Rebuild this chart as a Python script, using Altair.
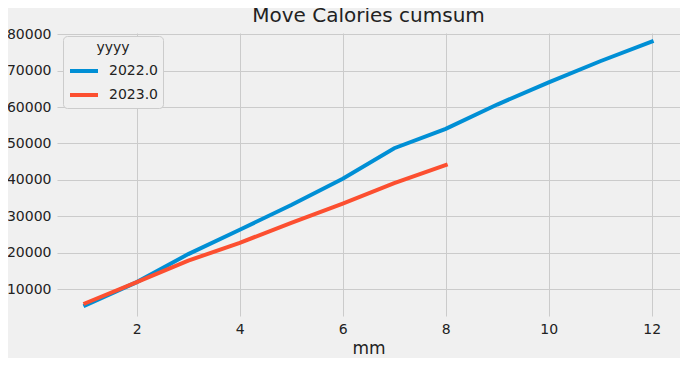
import altair as alt
import pandas as pd

months_2022 = [1, 2, 3, 4, 5, 6, 7, 8, 9, 10, 11, 12]
values_2022 = [5500, 11900, 19600, 26300, 33100, 40300, 48700, 54000, 60700, 66800, 72600, 78000]
months_2023 = [1, 2, 3, 4, 5, 6, 7, 8]
values_2023 = [6100, 11900, 17800, 22700, 28200, 33500, 39100, 44100]
series = ["2022.0", "2023.0"]
colors = ["#008fd5", "#fc4f30"]
x_ticks = [2, 4, 6, 8, 10, 12]
y_ticks = [10000, 20000, 30000, 40000, 50000, 60000, 70000, 80000]

df = pd.concat([
    pd.DataFrame({"mm": months_2022, "val": values_2022, "yyyy": series[0]}),
    pd.DataFrame({"mm": months_2023, "val": values_2023, "yyyy": series[1]}),
])

chart = alt.Chart(df).mark_line(strokeWidth=4, strokeCap="square", clip=True).encode(
    x=alt.X("mm:Q", title="mm", scale=alt.Scale(domain=[0.45, 12.55], nice=False, zero=False),
            axis=alt.Axis(values=x_ticks, format="d")),
    y=alt.Y("val:Q", title=None, scale=alt.Scale(domain=[2590, 80360], nice=False, zero=False),
            axis=alt.Axis(values=y_ticks, format="d")),
    color=alt.Color("yyyy:N", scale=alt.Scale(domain=series, range=colors),
                    legend=alt.Legend(title="yyyy", orient="none", legendX=6, legendY=3,
                                      symbolType="stroke", symbolSize=784, symbolStrokeWidth=4,
                                      labelFontSize=14, titleFontSize=14, titleFontWeight="normal",
                                      titleAnchor="middle", titleColor="#222222", labelColor="#222222",
                                      fillColor="#f0f0f0", strokeColor="#cccccc", cornerRadius=4,
                                      padding=5, rowPadding=-8, labelOffset=9, titlePadding=0,
                                      labelFont="DejaVu Sans", titleFont="DejaVu Sans")),
).properties(
    width=623, height=283, autosize="none",
    padding={"left": 49, "top": 25, "right": 0, "bottom": 42},
    title=alt.Title("Move Calories cumsum", fontSize=20, fontWeight="normal", font="DejaVu Sans",
                    color="#222222", offset=1, anchor="middle"),
    background="#f0f0f0",
).configure_view(stroke=None, fill="#f0f0f0").configure_axis(
    grid=True, gridColor="#cbcbcb", gridWidth=1, domain=False, ticks=False,
    labelFontSize=14, labelFont="DejaVu Sans", labelColor="#222222", labelPadding=6,
    titleFont="DejaVu Sans", titleFontSize=17, titleFontWeight="normal", titleColor="#222222",
    titlePadding=4,
)

chart.save("out.html", embed_options={"renderer": "svg", "actions": False})
